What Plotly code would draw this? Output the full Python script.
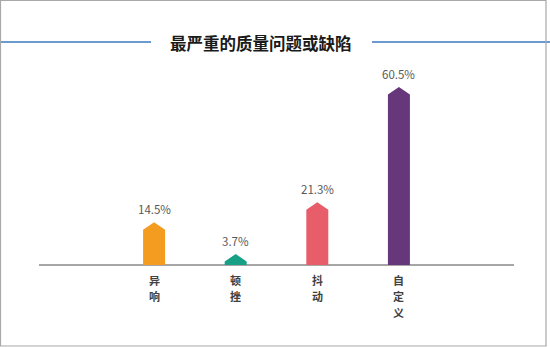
import plotly.graph_objects as go

categories = ["异响", "顿挫", "抖动", "自定义"]
values = [14.5, 3.7, 21.3, 60.5]
value_labels = ["14.5%", "3.7%", "21.3%", "60.5%"]
colors = ["#F39C1F", "#17A085", "#E85D6A", "#66377A"]
title_text = "最严重的质量问题或缺陷"

W, H = 550, 347
FONT = "Noto Sans CJK SC"

# layout geometry
x_range = [-1.41, 4.41]
y_range = [0, 70]
x_dom = [39 / W, 514 / W]
base_px = 265
top_px = base_px - (y_range[1] / 60.5) * (265 - 87)
y_dom = [(H - base_px) / H, (H - top_px) / H]

px_per_x = (514 - 39) / (x_range[1] - x_range[0])
px_per_y = (base_px - top_px) / (y_range[1] - y_range[0])
half_w = 11 / px_per_x
tip_h = 7.5 / px_per_y

fig = go.Figure()
for i, (c, v, col) in enumerate(zip(categories, values, colors)):
    xs = [i - half_w, i - half_w, i, i + half_w, i + half_w, i - half_w]
    ys = [0, v - tip_h, v, v - tip_h, 0, 0]
    fig.add_trace(go.Scatter(x=xs, y=ys, fill="toself", fillcolor=col,
                             mode="lines", line=dict(width=0, color=col),
                             hoverinfo="skip", showlegend=False))

annotations = []
for i, (v, lab) in enumerate(zip(values, value_labels)):
    annotations.append(dict(x=i, y=v, xref="x", yref="y", text=lab,
                            showarrow=False, yshift=13,
                            font=dict(family=FONT, size=11.5, color="#595959")))
for i, c in enumerate(categories):
    for k, ch in enumerate(c):
        annotations.append(dict(x=i, y=(H - (280 + 16 * k)) / H, xref="x", yref="paper",
                                text="<b>" + ch + "</b>",
                                showarrow=False, yanchor="middle", align="center",
                                font=dict(family=FONT, size=11, color="#404040")))
annotations.append(dict(x=261 / W, y=(H - 43) / H, xref="paper", yref="paper",
                        text="<b>" + title_text + "</b>", showarrow=False,
                        xanchor="center", yanchor="middle",
                        font=dict(family=FONT, size=16.5, color="#1A1A1A")))

shapes = [
    dict(type="line", xref="paper", yref="paper", x0=0, x1=151 / W,
         y0=(H - 42) / H, y1=(H - 42) / H, line=dict(color="#6A9AD0", width=2)),
    dict(type="line", xref="paper", yref="paper", x0=372 / W, x1=1,
         y0=(H - 42) / H, y1=(H - 42) / H, line=dict(color="#6A9AD0", width=2)),
    dict(type="rect", xref="paper", yref="paper", x0=0.5 / W, x1=546 / W,
         y0=(H - 346) / H, y1=(H - 0.5) / H, line=dict(color="#A8A8A8", width=1.2)),
]

fig.update_layout(
    width=W, height=H, margin=dict(l=0, r=0, t=0, b=0),
    paper_bgcolor="white", plot_bgcolor="white",
    xaxis=dict(domain=x_dom, range=x_range, showgrid=False, zeroline=False,
               showticklabels=False, showline=False, fixedrange=True),
    yaxis=dict(domain=y_dom, range=y_range, showgrid=False, zeroline=True,
               zerolinecolor="#A6A6A6", zerolinewidth=1.5,
               showticklabels=False, showline=False, fixedrange=True),
    annotations=annotations, shapes=shapes, showlegend=False,
)
fig.write_html("out.html")
